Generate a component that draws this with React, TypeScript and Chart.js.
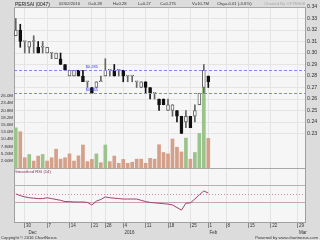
import React, { useEffect, useRef } from "react";
import { Chart, registerables } from "chart.js";

Chart.register(...registerables);

const FONT = "'Liberation Sans', Arial, sans-serif";

// ---- data (one entry per trading day) ----
const opens = [0.315, 0.32, 0.31, 0.305, 0.31, 0.305, 0.305, 0.3, 0.3, 0.295, 0.295, 0.29, 0.28, 0.28, 0.285, 0.28, 0.275, 0.27, 0.27, 0.275, 0.28, 0.285, 0.285, 0.285, 0.285, 0.28, 0.28, 0.275, 0.27, 0.275, 0.27, 0.265, 0.26, 0.26, 0.25, 0.25, 0.25, 0.245, 0.24, 0.245, 0.245, 0.255, 0.27, 0.28];
const highs = [0.33, 0.325, 0.31, 0.31, 0.315, 0.31, 0.31, 0.305, 0.3, 0.3, 0.3, 0.29, 0.285, 0.285, 0.285, 0.285, 0.275, 0.27, 0.275, 0.28, 0.295, 0.285, 0.29, 0.285, 0.285, 0.28, 0.28, 0.275, 0.275, 0.275, 0.27, 0.265, 0.26, 0.26, 0.26, 0.255, 0.25, 0.245, 0.25, 0.245, 0.255, 0.265, 0.29, 0.28];
const lows = [0.315, 0.305, 0.3, 0.3, 0.3, 0.3, 0.3, 0.3, 0.295, 0.295, 0.29, 0.285, 0.28, 0.28, 0.28, 0.275, 0.27, 0.265, 0.27, 0.275, 0.28, 0.28, 0.28, 0.28, 0.275, 0.275, 0.275, 0.27, 0.27, 0.265, 0.26, 0.26, 0.25, 0.255, 0.25, 0.245, 0.24, 0.23, 0.235, 0.235, 0.24, 0.255, 0.265, 0.27];
const closes = [0.32, 0.31, 0.31, 0.31, 0.31, 0.3, 0.305, 0.305, 0.3, 0.3, 0.29, 0.285, 0.285, 0.285, 0.28, 0.275, 0.275, 0.265, 0.275, 0.275, 0.285, 0.285, 0.28, 0.285, 0.28, 0.28, 0.28, 0.275, 0.275, 0.27, 0.265, 0.265, 0.255, 0.255, 0.255, 0.255, 0.245, 0.23, 0.245, 0.235, 0.25, 0.265, 0.285, 0.275];
const volumes = [14.5, 13.1, 3.7, 4.9, 2.5, 4.3, 4.9, 2.5, 3.7, 6.8, 3.2, 3.7, 5.1, 2.5, 4.4, 8.3, 2.3, 3.1, 5.1, 1.9, 8.3, 2.3, 4.3, 1.7, 3.1, 1.7, 2.1, 3.2, 3.2, 1.7, 3.5, 3.2, 8.4, 5.6, 5.1, 10.5, 7.5, 5.8, 10.8, 3.2, 5.6, 12.5, 29.0, 10.7];
const volumeUp = [true, false, false, true, false, false, true, false, false, false, false, false, false, false, false, false, false, false, true, false, true, false, false, false, false, false, false, false, false, false, false, false, false, false, false, false, false, false, true, false, true, true, true, false];
const rsi = [49, 45, 42, 40, 39, 38, 38, 40, 38, 36, 34, 31, 31, 30, 30, 30, 29, 23, 32, 36, 42, 40, 39, 38, 37, 37, 37, 37, 34, 31, 29, 28, 27, 26, 25, 23, 17, 11, 27, 28, 37, 47, 56, 51];

const priceTicks = [0.23, 0.24, 0.25, 0.26, 0.27, 0.28, 0.29, 0.3, 0.31, 0.32, 0.33, 0.34];
const volumeTicks = [2.6, 5.2, 7.8, 10.4, 13.0, 15.6, 18.2, 20.8, 23.4, 26.0];
const rsiTicks = [70, 30];
const rsiMid = 50;
const levelLines = [0.285, 0.265];
const dateTickIdx = [2, 7, 12, 17, 20, 24, 29, 34, 39, 43, 47, 52, 57, 63];
const dateTickLabels = ["30", "7", "14", "21", "28", "4", "11", "18", "25", "1", "8", "15", "22", "29"];
const monthTickLabels = ["Dec", "", "", "", "", "2016", "", "", "", "Feb", "", "", "", "Mar"];

const headerTitle = "PERISAI (0047)";
const headerFields = ["02/02/2016", "O=0.28", "H=0.28", "L=0.27", "C=0.275", "V=10.7M", "Chg=-0.01 (-3.6%)"];
const chartedBy = "Charted By CFTEH08";
const rsiTitle = "Smoothed RSI (14)";
const copyright = "Copyright \u00a9 2016 ChartNexus";
const poweredBy = "Powered by www.chartnexus.com";

// ---- layout constants ----
const W = 320, H = 240;
const AREA_TOP = 7, AREA_BOTTOM = 222, LEFT_W = 14, RIGHT_W = 15;
const PRICE_PANEL_H = 161;
const PRICE_MIN = 0.2, PRICE_MAX = 0.34;
const AREA_H = AREA_BOTTOM - AREA_TOP;
const priceAxisMin = PRICE_MAX - (PRICE_MAX - PRICE_MIN) * AREA_H / PRICE_PANEL_H;
const VOL_PX_PER_M = 72 / 26;
const volAxisMax = PRICE_PANEL_H / VOL_PX_PER_M;
const volAxisMin = -(AREA_H - PRICE_PANEL_H) / VOL_PX_PER_M;
const RSI_PX = 17 / 40;
const RSI30_FROM_BOTTOM = 20;
const rsiAxisMin = 30 - RSI30_FROM_BOTTOM / RSI_PX;
const rsiAxisMax = 30 + (AREA_H - RSI30_FROM_BOTTOM) / RSI_PX;
const X_MIN = -0.4, X_MAX = 64.6;
const LEVEL_LABEL_X = 15.6;

const headerX = [59, 88, 113, 138, 160, 192, 217];

const UP_LINE = "#666666";
const DOWN = "#111111";
const VOL_GREEN = "#9bc38c";
const VOL_BROWN = "#d4a089";
const LEVEL_BLUE = "#8585f2";

const panelPlugin = {
  id: "panels",
  beforeDraw(chart: any) {
    const { ctx, chartArea: a } = chart;
    ctx.save();
    ctx.fillStyle = "#dcdcdc";
    ctx.fillRect(0, 0, W, H);
    ctx.fillStyle = "#f6f6f6";
    ctx.fillRect(a.left, a.top, a.right - a.left, a.bottom - a.top);
    ctx.restore();
  },
  beforeDatasetsDraw(chart: any) {
    const { ctx, chartArea: a, scales } = chart;
    const y = scales.y;
    const r = scales.yRsi;
    ctx.save();
    ctx.lineWidth = 1;
    ctx.strokeStyle = "#d28aa8";
    ctx.setLineDash([1, 2]);
    {
      const py = Math.round(r.getPixelForValue(rsiMid)) + 0.5;
      ctx.beginPath();
      ctx.moveTo(a.left, py);
      ctx.lineTo(a.right, py);
      ctx.stroke();
    }
    ctx.setLineDash([]);
    ctx.strokeStyle = "#c9a6b0";
    rsiTicks.forEach((v) => {
      const py = Math.round(r.getPixelForValue(v)) + 0.5;
      ctx.beginPath();
      ctx.moveTo(a.left, py);
      ctx.lineTo(a.right, py);
      ctx.stroke();
    });
    ctx.strokeStyle = "#a8a8a8";
    const sep = Math.round(y.getPixelForValue(PRICE_MIN)) + 0.5;
    ctx.beginPath();
    ctx.moveTo(a.left, sep);
    ctx.lineTo(a.right, sep);
    ctx.moveTo(a.left, a.top + 0.5);
    ctx.lineTo(a.right, a.top + 0.5);
    ctx.stroke();
    ctx.restore();
  },
  afterDatasetsDraw(chart: any) {
    const { ctx, scales } = chart;
    const a = chart.chartArea;
    const y = scales.y;
    ctx.save();
    ctx.fillStyle = LEVEL_BLUE;
    levelLines.forEach((v) => {
      const py = Math.round(y.getPixelForValue(v));
      for (let x = a.left; x < a.right; x += 5) {
        ctx.fillRect(x, py, Math.min(3, a.right - x), 1);
      }
    });
    ctx.font = `4px ${FONT}`;
    ctx.fillStyle = "#3a3af0";
    ctx.textBaseline = "bottom";
    const lx = scales.x.getPixelForValue(LEVEL_LABEL_X);
    levelLines.forEach((v) => {
      ctx.fillText("$" + v.toFixed(3), lx, y.getPixelForValue(v) - 1);
    });
    const sep = y.getPixelForValue(PRICE_MIN);
    ctx.fillStyle = "#8b3057";
    ctx.textBaseline = "top";
    ctx.font = `4.2px ${FONT}`;
    ctx.fillText(rsiTitle, a.left + 1, sep + 2);
    ctx.restore();
  },
  afterDraw(chart: any) {
    const { ctx } = chart;
    ctx.save();
    ctx.textBaseline = "alphabetic";
    ctx.fillStyle = "#222";
    ctx.font = `4.9px ${FONT}`;
    ctx.fillText(headerTitle, 15, 5.5);
    ctx.font = `4.2px ${FONT}`;
    ctx.fillStyle = "#333";
    headerFields.forEach((t, i) => ctx.fillText(t, headerX[i], 5.2));
    ctx.fillStyle = "#a8a8a8";
    ctx.textAlign = "right";
    ctx.fillText(chartedBy, 305, 5.2);
    ctx.fillStyle = "#333";
    ctx.fillText(poweredBy, 318, 238.5);
    ctx.textAlign = "left";
    ctx.fillText(copyright, 1, 238.5);
    ctx.restore();
  },
};

export default function App() {
  const ref = useRef<HTMLCanvasElement>(null);

  useEffect(() => {
    if (!ref.current) return;
    const idx = closes.map((_, i) => i);
    const up = (i: number) => closes[i] >= opens[i];

    const chart = new Chart(ref.current, {
      type: "bar",
      data: {
        datasets: [
          {
            type: "bar",
            label: "body",
            data: idx.map((i) => ({ x: i, y: [opens[i], closes[i]] })) as any,
            yAxisID: "y",
            backgroundColor: idx.map((i) => (up(i) ? "#ffffff" : DOWN)),
            borderColor: idx.map((i) => (up(i) ? UP_LINE : DOWN)),
            borderWidth: 1,
            borderSkipped: false,
            barThickness: 3,
            minBarLength: 1,
            grouped: false,
          } as any,
          {
            type: "bar",
            label: "wick",
            data: idx.map((i) => ({ x: i, y: [lows[i], highs[i]] })) as any,
            yAxisID: "y",
            backgroundColor: idx.map((i) => (up(i) ? UP_LINE : DOWN)),
            borderWidth: 0,
            barThickness: 1,
            minBarLength: 1,
            grouped: false,
          } as any,
          {
            type: "bar",
            label: "volume",
            data: idx.map((i) => ({ x: i, y: volumes[i] })) as any,
            yAxisID: "yVol",
            backgroundColor: idx.map((i) => (volumeUp[i] ? VOL_GREEN : VOL_BROWN)),
            borderWidth: 0,
            barThickness: 3,
            grouped: false,
          } as any,
          {
            type: "line",
            label: "rsi",
            data: idx.map((i) => ({ x: i, y: rsi[i] })) as any,
            yAxisID: "yRsi",
            borderColor: "#a2416f",
            borderWidth: 1,
            pointRadius: 0,
            tension: 0,
            fill: false,
          } as any,
        ],
      },
      options: {
        responsive: false,
        animation: false,
        events: [],
        layout: { padding: { top: AREA_TOP, left: 0, right: 0, bottom: 0 } },
        plugins: { legend: { display: false }, tooltip: { enabled: false } },
        scales: {
          x: {
            type: "linear",
            position: "bottom",
            min: X_MIN,
            max: X_MAX,
            offset: false,
            afterBuildTicks: (s: any) => {
              s.ticks = dateTickIdx.map((v) => ({ value: v }));
            },
            afterFit: (s: any) => {
              s.height = H - AREA_BOTTOM;
            },
            ticks: {
              autoSkip: false,
              maxRotation: 0,
              minRotation: 0,
              align: "start",
              padding: -5,
              color: "#333",
              font: { family: FONT, size: 4.5, lineHeight: 1.4 },
              callback: (_v: any, i: number) => {
                const m = monthTickLabels[i];
                const d = " " + dateTickLabels[i];
                if (!m) return d;
                return [d, (i === 0 ? "   " : " ") + m];
              },
            },
            grid: { offset: false, color: "#e4e4e4", tickColor: "#8a8a8a", tickLength: 6, drawTicks: true },
            border: { color: "#a0a0a0" },
          } as any,
          y: {
            type: "linear",
            position: "right",
            weight: 1,
            min: priceAxisMin,
            max: PRICE_MAX,
            beginAtZero: false,
            afterBuildTicks: (s: any) => {
              s.ticks = priceTicks.map((v) => ({ value: v }));
            },
            afterFit: (s: any) => {
              s.width = RIGHT_W;
            },
            ticks: {
              autoSkip: false,
              padding: 2,
              color: "#333",
              font: { family: FONT, size: 5.3 },
              callback: (v: any) => Number(v).toFixed(2),
            },
            grid: { color: "#e4e4e4", drawTicks: false },
            border: { color: "#a0a0a0" },
          } as any,
          yRsi: {
            type: "linear",
            position: "right",
            weight: 0,
            min: rsiAxisMin,
            max: rsiAxisMax,
            beginAtZero: false,
            afterBuildTicks: (s: any) => {
              s.ticks = rsiTicks.map((v) => ({ value: v }));
            },
            afterFit: (s: any) => {
              s.width = 0;
            },
            ticks: {
              autoSkip: false,
              padding: 2,
              color: "#333",
              font: { family: FONT, size: 4.5 },
              callback: (v: any) => v + "%",
            },
            grid: { display: false, drawTicks: false },
            border: { display: false },
          } as any,
          yVol: {
            type: "linear",
            position: "left",
            min: volAxisMin,
            max: volAxisMax,
            beginAtZero: false,
            afterBuildTicks: (s: any) => {
              s.ticks = volumeTicks.map((v) => ({ value: v }));
            },
            afterFit: (s: any) => {
              s.width = LEFT_W;
            },
            ticks: {
              autoSkip: false,
              padding: 1,
              color: "#333",
              font: { family: FONT, size: 4.4 },
              callback: (v: any) => Number(v).toPrecision(3) + "M",
            },
            grid: { display: false, drawTicks: false },
            border: { color: "#a0a0a0" },
          } as any,
        },
      } as any,
      plugins: [panelPlugin],
    });
    return () => chart.destroy();
  }, []);

  return (
    <div style={{ position: "fixed", left: 0, top: 0, width: W, height: H }}>
      <canvas ref={ref} width={W} height={H} style={{ width: W, height: H, display: "block" }} />
    </div>
  );
}
